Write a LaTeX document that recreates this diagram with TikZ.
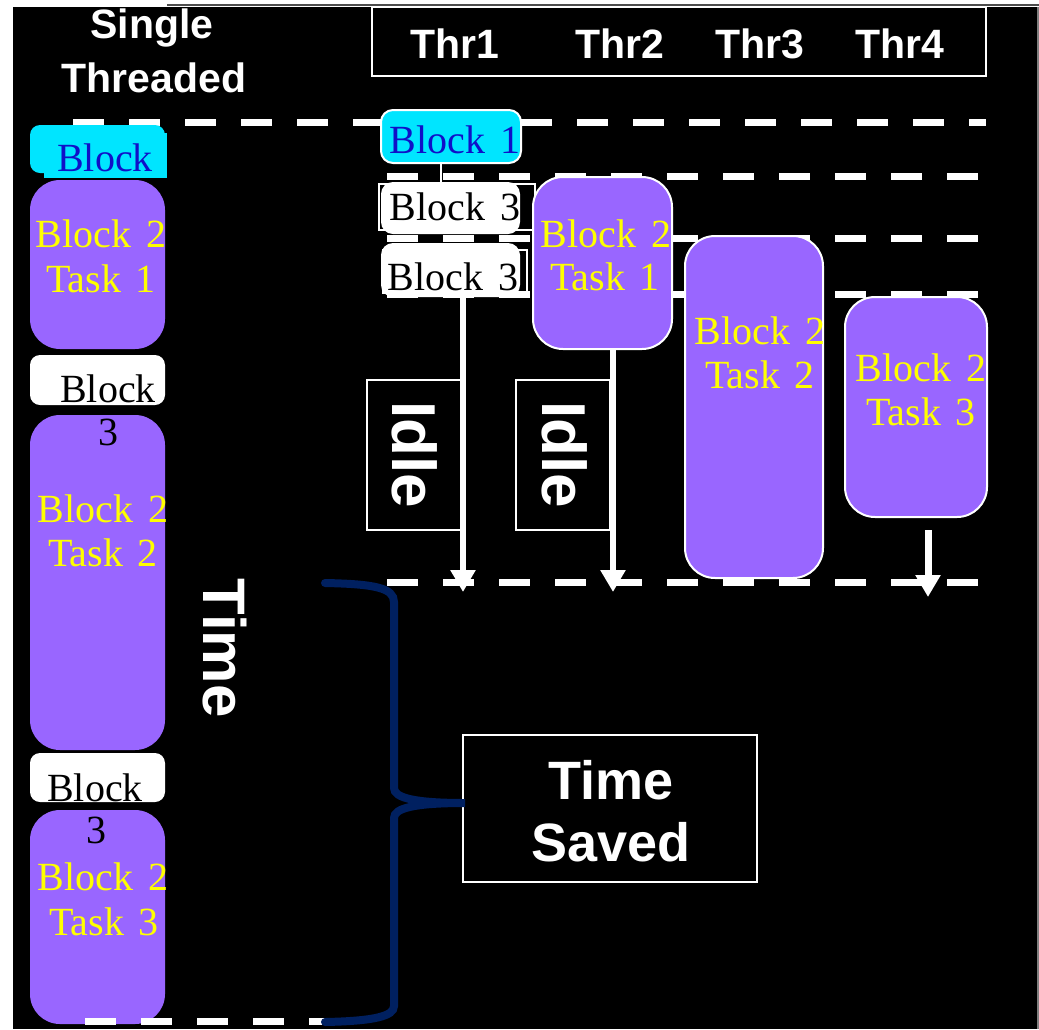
\documentclass[tikz,border=0pt]{standalone}
\usepackage{fontspec}
\setmainfont{Liberation Sans}
\newfontfamily\serifcj[WordSpace=1.5]{Liberation Serif}
\usetikzlibrary{arrows.meta}
\definecolor{purp}{RGB}{153,102,255}
\definecolor{cyanb}{RGB}{0,229,255}
\definecolor{bluet}{RGB}{16,16,200}
\definecolor{navyb}{RGB}{0,32,96}
\definecolor{yel}{RGB}{255,255,0}
\begin{document}
\begin{tikzpicture}[x=1pt,y=-1pt,
  dashline/.style={white, line width=7pt, dash pattern=on 31pt off 25pt},
  hdr/.style={text=white, font=\bfseries\fontsize{41}{49}\selectfont, inner sep=0pt, anchor=base},
  big/.style={text=white, font=\bfseries\fontsize{54}{60}\selectfont, inner sep=0pt, anchor=base},
  vert/.style={text=white, font=\bfseries\fontsize{62}{62}\selectfont, inner sep=0pt, rotate=-90},
  lbl/.style={font=\serifcj\fontsize{40}{44}\selectfont, inner sep=0pt, anchor=base},
  box/.style={inner sep=0pt, outer sep=0pt},
  ptask/.style={box, fill=purp, rounded corners=30pt},
  ptaskw/.style={ptask, draw=white, line width=2pt},
  wblk/.style={box, fill=white, rounded corners=10pt},
  cblk/.style={box, fill=cyanb, rounded corners=10pt},
  frame/.style={box, draw=white, line width=2pt},
  thinframe/.style={box, draw=white, line width=1.5pt},
  arr/.style={white, line width=6pt, -{Triangle[width=24pt,length=22pt]}}
]
\useasboundingbox (0,0) rectangle (1039,1029);
\fill[white] (0,0) rectangle (1039,1029);
\fill[black] (13,7) rectangle (1037,1029);
\draw[gray!60!black, line width=2pt] (167,4.5) -- (1039,4.5);
\draw[gray, line width=2pt] (1038,7) -- (1038,1029);

% dashed time lines
\draw[dashline] (73,122) -- (986,122);
\draw[dashline] (387,176) -- (978,176);
\draw[dashline] (387,238) -- (978,238);
\draw[dashline] (387,294) -- (978,294);
\draw[dashline] (387,582) -- (978,582);

% header
\node[frame, minimum width=614pt, minimum height=69pt] (hdrbox) at (679,41.5) {};
\node[hdr] (thr1) at (455,58) {Thr1};
\node[hdr] (thr2) at (620,58) {Thr2};
\node[hdr] (thr3) at (760,58) {Thr3};
\node[hdr] (thr4) at (900,58) {Thr4};
\node[hdr] (single) at (152,38) {Single};
\node[hdr] (threaded) at (154,92) {Threaded};

% left column (single threaded)
\node[cblk, minimum width=135pt, minimum height=48pt] (lcyan) at (97.5,149) {};
\node[box, fill=cyanb, minimum width=123pt, minimum height=45pt] (lcyanb) at (105.5,155.5) {};
\node[ptask, minimum width=135pt, minimum height=169pt] (lt1) at (97.5,264.5) {};
\node[wblk, minimum width=135pt, minimum height=50pt] (lw1) at (97.5,380) {};
\node[ptask, minimum width=135pt, minimum height=335pt] (lt2) at (97.5,582.5) {};
\node[wblk, minimum width=135pt, minimum height=49pt] (lw2) at (97.5,777.5) {};
\node[ptask, minimum width=135pt, minimum height=214pt] (lt3) at (97.5,917) {};

\node[lbl, text=bluet] (tc0) at (105,171) {Block};
\node[lbl, text=yel] (tl1a) at (101,247) {Block 2};
\node[lbl, text=yel] (tl1b) at (101,292) {Task 1};
\node[lbl, text=black] (tw1) at (108,402) {Block};
\node[lbl, text=black] (tw1n) at (108,445) {3};
\node[lbl, text=yel] (tl2a) at (103,522) {Block 2};
\node[lbl, text=yel] (tl2b) at (103,566) {Task 2};
\node[lbl, text=black] (tw2) at (95,801) {Block};
\node[lbl, text=black] (tw2n) at (96,843) {3};
\node[lbl, text=yel] (tl3a) at (103,890) {Block 2};
\node[lbl, text=yel] (tl3b) at (104,935) {Task 3};

% thread 1
\node[thinframe, minimum width=156pt, minimum height=46pt] (b3ao) at (457,207) {};
\node[thinframe, minimum width=144pt, minimum height=43pt] (b3bo) at (455,271.5) {};
\node[cblk, draw=white, line width=2pt, rounded corners=12pt, minimum width=140pt, minimum height=53pt] (b1) at (451,136.5) {};
\node[wblk, rounded corners=12pt, minimum width=139pt, minimum height=52pt] (b3a) at (450.5,208) {};
\node[wblk, rounded corners=12pt, minimum width=139pt, minimum height=54pt] (b3b) at (450.5,270) {};
\draw[white, line width=2pt] ([xshift=-10pt]b1.south) -- ([xshift=-9.5pt]b3a.north);
\node[lbl, text=bluet] (tb1) at (455,153) {Block 1};
\node[lbl, text=black] (tb3a) at (455,220) {Block 3};
\node[lbl, text=black] (tb3b) at (453,290) {Block 3};

% threads 2-4
\node[ptaskw, minimum width=139pt, minimum height=172pt] (t1) at (602.5,263) {};
\node[ptaskw, minimum width=138pt, minimum height=342pt] (t2) at (754,407) {};
\node[ptaskw, minimum width=142pt, minimum height=220pt] (t3) at (916,407) {};
\node[lbl, text=yel] (tt1a) at (606,247) {Block 2};
\node[lbl, text=yel] (tt1b) at (605,290) {Task 1};
\node[lbl, text=yel] (tt2a) at (760,344) {Block 2};
\node[lbl, text=yel] (tt2b) at (760,388) {Task 2};
\node[lbl, text=yel] (tt3a) at (921,381) {Block 2};
\node[lbl, text=yel] (tt3b) at (921,425) {Task 3};

% idle boxes
\node[frame, fill=black, minimum width=94pt, minimum height=150pt] (idle1) at (414,455) {};
\node[frame, fill=black, minimum width=94pt, minimum height=150pt] (idle2) at (563,455) {};
\node[vert] (idlet1) at (415,455) {Idle};
\node[vert] (idlet2) at (565,455) {Idle};

% arrows
\coordinate (e1) at (463,592);
\coordinate (e2) at (613,592);
\coordinate (s4) at (928,530);
\coordinate (e4) at (928,597);
\draw[arr] ([xshift=12.5pt]b3b.south) -- (e1);
\draw[arr] ([xshift=10.5pt]t1.south) -- (e2);
\draw[arr, line width=7pt] (s4) -- (e4);

% bottom dashed line
\draw[dashline] (85,1021) -- (340,1021);

% time label
\node[vert, font=\bfseries\fontsize{60}{60}\selectfont] (timel) at (225,648) {Time};

% time saved
\node[frame, minimum width=294pt, minimum height=147pt] (tsbox) at (610,808.5) {};
\node[big] (tst) at (611,799) {Time};
\node[big] (tss) at (611,861) {Saved};

% brace
\coordinate (tip) at (465,803);
\draw[navyb, line width=8pt, line cap=round] (325,583) .. controls (375,584) and (394,588) .. (394,602) -- (394,788) .. controls (394,798) and (415,803) .. (tip) .. controls (415,803) and (394,808) .. (394,818) -- (394,1006) .. controls (394,1016) and (375,1021) .. (325,1022);
\end{tikzpicture}
\end{document}
